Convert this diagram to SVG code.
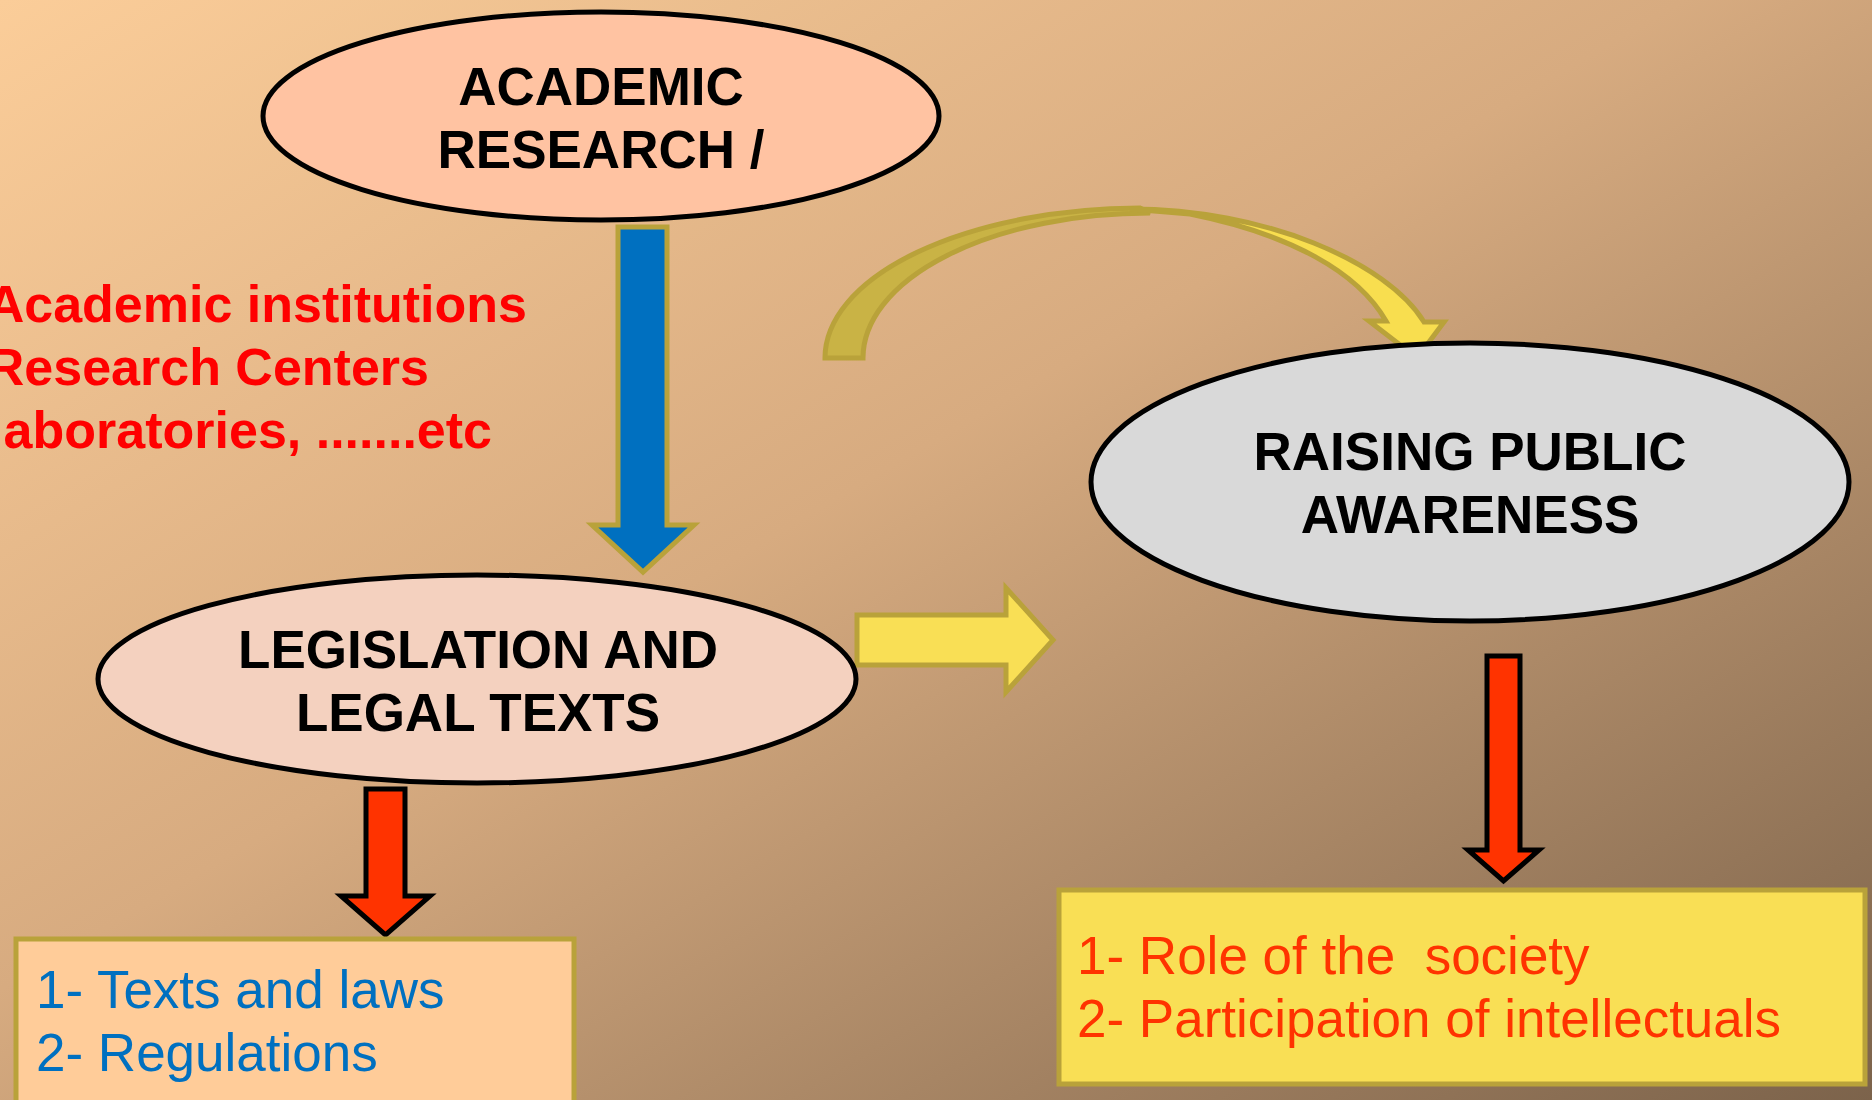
<svg xmlns="http://www.w3.org/2000/svg" width="1872" height="1100" viewBox="0 0 1872 1100">
  <defs>
    <linearGradient id="bg" x1="0" y1="0" x2="1" y2="1">
      <stop offset="0" stop-color="#FBCD99"/>
      <stop offset="0.45" stop-color="#D7AB80"/>
      <stop offset="1" stop-color="#7C634B"/>
    </linearGradient>
  </defs>
  <style>
    .node-ell { stroke: #000; stroke-width: 5; }
    .title { font-family: "Liberation Sans", Arial, sans-serif; font-weight: bold; font-size: 53px; fill: #000; text-anchor: middle; }
    .list { font-family: "Liberation Sans", Arial, sans-serif; font-size: 53px; white-space: pre; }
    .side { font-family: "Liberation Sans", Arial, sans-serif; font-weight: bold; font-size: 52px; fill: #FF0000; text-anchor: end; }
    .gold { stroke: #B9A23A; stroke-width: 5; stroke-linejoin: miter; }
    .redarrow { fill: #FF3300; stroke: #000; stroke-width: 5; stroke-linejoin: miter; }
  </style>
  <rect x="0" y="0" width="1872" height="1100" fill="url(#bg)"/>

  <g id="connectors">
    <path id="arrow-academic-legislation" class="gold" fill="#0070C0" d="M618,227 L667,227 L667,525 L694,525 L643,572 L592,525 L618,525 Z"/>
    <path id="arrow-legislation-awareness" class="gold" fill="#F9DF55" d="M857,615 L1006,615 L1006,588 L1053,640 L1006,692 L1006,665 L857,665 Z"/>
    <g id="arrow-curved">
      <path class="gold" fill="#C9B345" d="M825,358 A317 150 0 0 1 1140,208 L1150,213 A287 145 0 0 0 863,358 Z"/>
      <path class="gold" fill="#F8DE4F" d="M1130,209 C1265,209 1387,262 1424,322 L1444,322 L1417,358 L1369,321 L1386,321 C1358,272 1290,234 1190,214 Z"/>
    </g>
    <path id="arrow-legislation-list" class="redarrow" d="M366,789 L405,789 L405,896 L430,896 L385.5,935 L341,896 L366,896 Z"/>
    <path id="arrow-awareness-list" class="redarrow" d="M1487,656 L1520,656 L1520,850 L1539,850 L1503.5,881 L1468,850 L1487,850 Z"/>
  </g>

  <g id="node-academic">
    <ellipse class="node-ell" cx="601" cy="116" rx="338" ry="104" fill="#FFC3A2"/>
    <text class="title" x="601" y="105">ACADEMIC</text>
    <text class="title" x="601" y="168">RESEARCH /</text>
  </g>

  <g id="node-institutions">
    <text class="side" x="527" y="322">Academic institutions</text>
    <text class="side" x="429" y="385">Research Centers</text>
    <text class="side" x="492" y="448">aboratories, .......etc</text>
  </g>

  <g id="node-legislation">
    <ellipse class="node-ell" cx="477" cy="679" rx="379" ry="104" fill="#F4D1BF"/>
    <text class="title" x="478" y="668">LEGISLATION AND</text>
    <text class="title" x="478" y="731">LEGAL TEXTS</text>
  </g>

  <g id="node-awareness">
    <ellipse class="node-ell" cx="1470" cy="482" rx="379" ry="139" fill="#D9D9D9"/>
    <text class="title" x="1470" y="470">RAISING PUBLIC</text>
    <text class="title" x="1470" y="533">AWARENESS</text>
  </g>

  <g id="node-legal-list">
    <rect class="gold" x="16" y="939" width="558" height="200" fill="#FFCC99" stroke-width="6"/>
    <text class="list" x="36" y="1008" fill="#0070C0">1- Texts and laws</text>
    <text class="list" x="36" y="1071" fill="#0070C0">2- Regulations</text>
  </g>

  <g id="node-society-list">
    <rect class="gold" x="1059" y="890" width="806" height="194" fill="#F9DF55" stroke-width="6"/>
    <text class="list" x="1077" y="974" fill="#FF3300">1- Role of the  society</text>
    <text class="list" x="1077" y="1037" fill="#FF3300">2- Participation of intellectuals</text>
  </g>
</svg>
